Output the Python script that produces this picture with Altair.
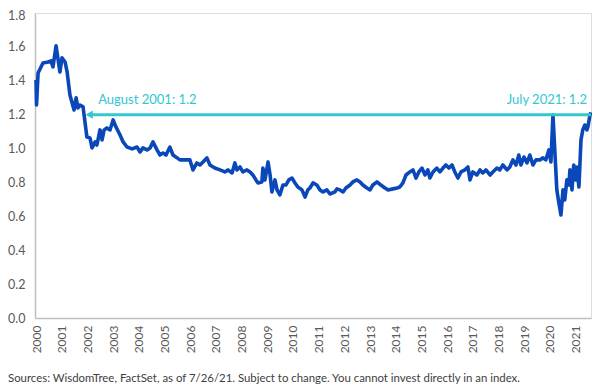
import altair as alt
import pandas as pd

years = [2000.00, 2000.02, 2000.08, 2000.27, 2000.47, 2000.58, 2000.66, 2000.78, 2000.93, 2001.01,
         2001.13, 2001.21, 2001.32, 2001.48, 2001.56, 2001.63, 2001.71, 2001.83, 2001.98, 2002.10,
         2002.18, 2002.30, 2002.37, 2002.49, 2002.57, 2002.65, 2002.76, 2002.88, 2003.00, 2003.11,
         2003.27, 2003.39, 2003.54, 2003.74, 2003.93, 2004.05, 2004.16, 2004.32, 2004.44, 2004.55,
         2004.71, 2004.82, 2004.94, 2005.06, 2005.21, 2005.33, 2005.49, 2005.60, 2005.84, 2005.99,
         2006.11, 2006.26, 2006.38, 2006.50, 2006.65, 2006.77, 2006.96, 2007.16, 2007.35, 2007.47,
         2007.63, 2007.74, 2007.82, 2007.94, 2008.05, 2008.21, 2008.33, 2008.44, 2008.56, 2008.64,
         2008.79, 2008.83, 2008.91, 2009.03, 2009.11, 2009.18, 2009.30, 2009.38, 2009.49, 2009.61,
         2009.73, 2009.84, 2009.96, 2010.08, 2010.19, 2010.35, 2010.47, 2010.58, 2010.66, 2010.78,
         2010.93, 2011.05, 2011.17, 2011.32, 2011.44, 2011.63, 2011.71, 2011.83, 2011.95, 2012.06,
         2012.22, 2012.33, 2012.49, 2012.61, 2012.72, 2012.88, 2013.00, 2013.11, 2013.27, 2013.42,
         2013.58, 2013.70, 2013.89, 2014.05, 2014.16, 2014.28, 2014.40, 2014.55, 2014.67, 2014.79,
         2014.90, 2015.02, 2015.14, 2015.25, 2015.33, 2015.45, 2015.60, 2015.72, 2015.84, 2015.95,
         2016.07, 2016.19, 2016.30, 2016.42, 2016.54, 2016.69, 2016.81, 2016.89, 2017.00, 2017.16,
         2017.28, 2017.39, 2017.51, 2017.67, 2017.78, 2017.94, 2018.05, 2018.17, 2018.33, 2018.44,
         2018.56, 2018.68, 2018.79, 2018.87, 2018.99, 2019.11, 2019.22, 2019.34, 2019.46, 2019.61,
         2019.73, 2019.84, 2019.96, 2020.04, 2020.12, 2020.19, 2020.27, 2020.35, 2020.43, 2020.51,
         2020.58, 2020.66, 2020.74, 2020.78, 2020.86, 2020.93, 2021.01, 2021.05, 2021.13, 2021.21,
         2021.28, 2021.36, 2021.44, 2021.48, 2021.56, 2021.60]

values = [1.405, 1.257, 1.446, 1.505, 1.511, 1.517, 1.482, 1.606, 1.452, 1.535,
          1.511, 1.452, 1.316, 1.228, 1.299, 1.240, 1.257, 1.246, 1.068, 1.063,
          1.004, 1.039, 1.021, 1.110, 1.051, 1.110, 1.122, 1.110, 1.169, 1.128,
          1.080, 1.039, 1.009, 0.998, 1.009, 0.980, 1.004, 0.992, 1.004, 1.039,
          0.992, 0.962, 0.974, 0.962, 1.009, 0.962, 0.945, 0.933, 0.933, 0.933,
          0.874, 0.915, 0.903, 0.921, 0.945, 0.903, 0.885, 0.874, 0.862, 0.874,
          0.856, 0.915, 0.874, 0.891, 0.862, 0.874, 0.862, 0.844, 0.815, 0.797,
          0.803, 0.885, 0.815, 0.921, 0.844, 0.744, 0.815, 0.756, 0.726, 0.785,
          0.785, 0.815, 0.826, 0.797, 0.773, 0.756, 0.714, 0.756, 0.767, 0.797,
          0.785, 0.756, 0.744, 0.756, 0.732, 0.744, 0.762, 0.756, 0.744, 0.767,
          0.785, 0.803, 0.815, 0.803, 0.785, 0.767, 0.756, 0.785, 0.803, 0.785,
          0.767, 0.756, 0.762, 0.767, 0.773, 0.797, 0.844, 0.862, 0.874, 0.826,
          0.862, 0.885, 0.844, 0.874, 0.826, 0.862, 0.885, 0.862, 0.885, 0.903,
          0.885, 0.903, 0.862, 0.826, 0.862, 0.874, 0.891, 0.815, 0.862, 0.844,
          0.874, 0.856, 0.874, 0.844, 0.862, 0.885, 0.874, 0.903, 0.874, 0.891,
          0.933, 0.903, 0.962, 0.903, 0.950, 0.915, 0.962, 0.903, 0.933, 0.933,
          0.945, 0.933, 0.992, 0.921, 1.198, 0.992, 0.756, 0.679, 0.608, 0.756,
          0.697, 0.815, 0.785, 0.874, 0.756, 0.903, 0.815, 0.891, 0.773, 1.051,
          1.110, 1.139, 1.110, 1.128, 1.198, 1.214]

year_ticks = list(range(2000, 2022))
y_ticks = [0.0, 0.2, 0.4, 0.6, 0.8, 1.0, 1.2, 1.4, 1.6, 1.8]

ann_start = [2002.07]
ann_end = [2021.60]
ann_level = [1.2]
ann_left_text = ["August 2001: 1.2"]
ann_right_text = ["July 2021: 1.2"]
footer = "Sources: WisdomTree, FactSet, as of 7/26/21. Subject to change. You cannot invest directly in an index."

BLUE = "#0A47B8"
TEAL = "#33C6D0"
FONT = "Lato"

df = pd.DataFrame({"year": years, "value": values})
ann = pd.DataFrame({"x": ann_start, "x2": ann_end, "y": ann_level,
                    "lt": ann_left_text, "rt": ann_right_text})

xscale = alt.Scale(domain=[1999.96, 2021.6], nice=False, zero=False)
yscale = alt.Scale(domain=[0, 1.8], nice=False)

xaxis = alt.Axis(values=year_ticks, format="d", labelAngle=270, title=None,
                 grid=False, ticks=False, domainColor="#BFBFBF", domainWidth=1.5,
                 labelColor="#595959", labelFont=FONT, labelFontSize=12,
                 labelPadding=7, labelFlush=False, labelOverlap=False)
yaxis = alt.Axis(values=y_ticks, format=".1f", title=None, grid=False, ticks=False,
                 domainColor="#BFBFBF", domainWidth=1.5, labelColor="#595959",
                 labelFont=FONT, labelFontSize=12.5, labelPadding=10,
                 labelOverlap=False, labelFlush=False,
                 labelOffset={"condition": {"test": "datum.value >= 1.79", "value": 2},
                              "value": 0})

line = alt.Chart(df).mark_line(color=BLUE, strokeWidth=3.6, strokeJoin="round").encode(
    x=alt.X("year:Q", scale=xscale, axis=xaxis, title=None),
    y=alt.Y("value:Q", scale=yscale, axis=yaxis, title=None))

ax = alt.X("x:Q", scale=xscale, axis=xaxis, title=None)
ax2 = alt.X("x2:Q", scale=xscale, axis=xaxis, title=None)
ay = alt.Y("y:Q", scale=yscale, axis=yaxis, title=None)

rule = alt.Chart(ann).mark_rule(color=TEAL, strokeWidth=3).encode(x=ax, x2="x2:Q", y=ay)

head = alt.Chart(ann).mark_point(shape="triangle-left", filled=True, color=TEAL, size=70,
                                 opacity=1).encode(x=ax, y=ay)

ltext = alt.Chart(ann).mark_text(color=TEAL, font=FONT, fontSize=13, align="left",
                                 baseline="middle", dx=9, dy=-15).encode(
    x=ax, y=ay, text="lt:N")

rtext = alt.Chart(ann).mark_text(color=TEAL, font=FONT, fontSize=13, align="right",
                                 baseline="middle", dx=-4, dy=-15).encode(
    x=ax2, y=ay, text="rt:N")

foot = alt.Chart(pd.DataFrame({"t": [footer]})).mark_text(
    color="#404040", font=FONT, fontSize=11.4, align="left", baseline="middle").encode(
    x=alt.value(-27), y=alt.value(366), text="t:N")

chart = alt.layer(line, rule, head, ltext, rtext, foot).properties(
    width=556, height=305,
    autosize=alt.AutoSizeParams(type="none"),
    padding={"left": 27, "top": 5, "right": 1, "bottom": 72},
).configure_view(strokeWidth=0, stroke="transparent").configure(background="white")

chart.save("out.html", embed_options={"renderer": "svg", "actions": False})
